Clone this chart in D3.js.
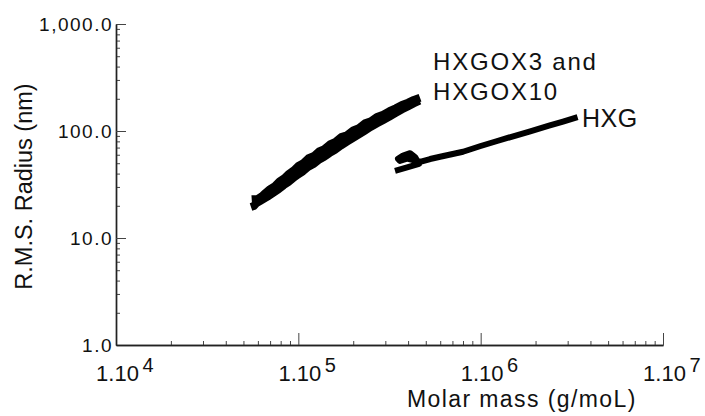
<!DOCTYPE html>
<html>
<head>
<meta charset="utf-8">
<script src="https://cdn.jsdelivr.net/npm/d3@7"></script>
<style>
  body { margin: 0; background: #fff; }
  svg, svg text { font-family: "Liberation Sans", Arial, Helvetica, sans-serif; }
</style>
</head>
<body>
<svg id="chart" width="705" height="416"></svg>
<script>
const FONT = "'Liberation Sans', Arial, Helvetica, sans-serif";

// Decade ticks and their labels
const massTicks = [1e4, 1e5, 1e6, 1e7];
const massTickExponents = ["4", "5", "6", "7"];
const radiusTicks = [1, 10, 100, 1000];
const radiusTickLabels = ["1.0", "10.0", "100.0", "1,000.0"];

// HXGOX3 trace: molar mass (g/mol) and r.m.s. radius (nm)
const hxgox3Mass = [55500, 60000, 63000, 66000, 70000, 74000, 79000, 84000, 89000, 95000,
  100000, 107000, 114000, 122000, 130000, 139000, 149000, 160000, 172000, 185000,
  200000, 215000, 232000, 250000, 270000, 292000, 316000, 342000, 370000, 400000,
  430000, 465000];
const hxgox3Radius = [23.0, 23.2, 24.5, 26.3, 28.6, 30.3, 33.9, 36.3, 39.9, 43.1,
  47.1, 50.2, 55.6, 58.5, 64.4, 67.7, 74.9, 79.2, 87.6, 91.3,
  101, 106.5, 118, 123, 135, 142, 153, 163, 175, 184,
  195, 205];

// HXGOX10 trace
const hxgox10Mass = [55000, 57000, 59000, 62000, 65000, 69000, 73000, 78000, 83000, 88000,
  94000, 99000, 106000, 113000, 121000, 129000, 138000, 148000, 159000, 171000,
  184000, 199000, 214000, 231000, 249000, 269000, 291000, 315000, 341000, 369000,
  399000, 429000, 462000];
const hxgox10Radius = [19.5, 19.9, 21.2, 22.3, 23.4, 24.8, 26.5, 28.6, 31.1, 33.2,
  36.4, 39.0, 42.0, 46.1, 49.2, 53.5, 57.0, 62.1, 66.8, 73.1,
  79.3, 86.0, 92.6, 100.4, 109, 117.6, 126.4, 136, 147, 159,
  170, 181, 192];

// HXG trace, in acquisition order (curls back at the low-mass end)
const hxgMass = [339000, 395000, 459000, 437000, 410000, 375000, 352000, 360000, 395000, 442000,
  471000, 528000, 599000, 800000, 1000000, 1220000, 1540000, 1870000, 2370000, 2830000, 3400000];
const hxgRadius = [42.3, 45.6, 49.2, 57.1, 62.0, 59.0, 55.0, 52.5, 55.3, 52.5,
  51.6, 54.7, 57.5, 64.0, 72.4, 80.2, 90.2, 99.3, 112, 122.6, 135];

const xTitle = "Molar mass (g/moL)";
const yTitle = "R.M.S. Radius (nm)";

const svg = d3.select("#chart");

const x = d3.scaleLog().domain([1e4, 1e7]).range([116, 663]);
const y = d3.scaleLog().domain([1, 1000]).range([345, 24]);

// Minor tick positions 2..9 within each decade
const minorMass = [];
for (let d = 1e4; d < 1e7; d *= 10) for (let k = 2; k <= 9; k++) minorMass.push(k * d);
const minorRadius = [];
for (let d = 1; d < 1000; d *= 10) for (let k = 2; k <= 9; k++) minorRadius.push(k * d);

const axisColor = "#222";

// X axis: minor ticks, then major ticks pointing into the plot
const gxMinor = svg.append("g").attr("transform", `translate(0,${y(1)})`)
  .call(d3.axisBottom(x).tickValues(minorMass).tickSizeInner(-4).tickSizeOuter(0).tickFormat(""));
const gxMajor = svg.append("g").attr("transform", `translate(0,${y(1)})`)
  .call(d3.axisBottom(x).tickValues(massTicks.slice(1)).tickSizeInner(-12).tickSizeOuter(0).tickFormat(""));

// Y axis
const gyMinor = svg.append("g").attr("transform", `translate(${x(1e4)},0)`)
  .call(d3.axisLeft(y).tickValues(minorRadius).tickSizeInner(-4).tickSizeOuter(0).tickFormat(""));
const gyMajor = svg.append("g").attr("transform", `translate(${x(1e4)},0)`)
  .call(d3.axisLeft(y).tickValues(radiusTicks).tickSizeInner(-10).tickSizeOuter(0)
    .tickPadding(3).tickFormat((d, i) => radiusTickLabels[i]));

[gxMinor, gxMajor, gyMinor, gyMajor].forEach(g => {
  g.attr("font-family", FONT);
  g.select(".domain").attr("stroke", axisColor).attr("stroke-width", 1.4);
  g.selectAll(".tick line").attr("stroke", "#444").attr("stroke-width", 1);
});
gyMajor.selectAll(".tick")
  .filter(d => d === 1)
  .select("line").remove();

gyMajor.selectAll(".tick text")
  .attr("font-size", 19)
  .attr("letter-spacing", 1.5)
  .attr("fill", "#111")
  .attr("font-family", FONT);

// X tick labels "1.10" with a superscript exponent
massTicks.forEach((m, i) => {
  const cx = x(m) + 1.5;
  const base = svg.append("text")
    .attr("x", cx).attr("y", 380.7)
    .attr("text-anchor", "middle")
    .attr("font-family", FONT)
    .attr("font-size", 22)
    .attr("fill", "#111")
    .text("1.10");
  const w = base.node().getComputedTextLength();
  svg.append("text")
    .attr("x", cx + w / 2 + 3.5).attr("y", 372)
    .attr("font-family", FONT)
    .attr("font-size", 20)
    .attr("fill", "#111")
    .text(massTickExponents[i]);
});

// Axis titles
svg.append("text")
  .attr("x", 407).attr("y", 407)
  .attr("font-family", FONT)
  .attr("font-size", 23)
  .attr("letter-spacing", 1.4)
  .attr("fill", "#111")
  .text(xTitle);

svg.append("text")
  .attr("transform", "translate(31.7,186.5) rotate(-90)")
  .attr("text-anchor", "middle")
  .attr("font-family", FONT)
  .attr("font-size", 23.5)
  .attr("fill", "#111")
  .text(yTitle);

// Data traces
const line = d3.line().x(d => x(d[0])).y(d => y(d[1]));
const traces = [
  { mass: hxgox10Mass, radius: hxgox10Radius, width: 8 },
  { mass: hxgox3Mass, radius: hxgox3Radius, width: 8 },
  { mass: hxgMass, radius: hxgRadius, width: 6 }
];
traces.forEach(t => {
  svg.append("path")
    .datum(t.mass.map((m, i) => [m, t.radius[i]]))
    .attr("d", line)
    .attr("fill", "none")
    .attr("stroke", "#000")
    .attr("stroke-width", t.width)
    .attr("stroke-linejoin", "round")
    .attr("stroke-linecap", "butt");
});

// Series annotations
const labelSpecs = [
  { text: "HXGOX3 and", x: 433, y: 70, size: 24, spacing: 1.8 },
  { text: "HXGOX10", x: 433, y: 100, size: 24, spacing: 1.8 },
  { text: "HXG", x: 582, y: 126.5, size: 25, spacing: 0.5 }
];
labelSpecs.forEach(s => {
  svg.append("text").attr("x", s.x).attr("y", s.y)
    .attr("font-family", FONT)
    .attr("font-size", s.size).attr("letter-spacing", s.spacing).attr("fill", "#111")
    .text(s.text);
});
</script>
</body>
</html>
